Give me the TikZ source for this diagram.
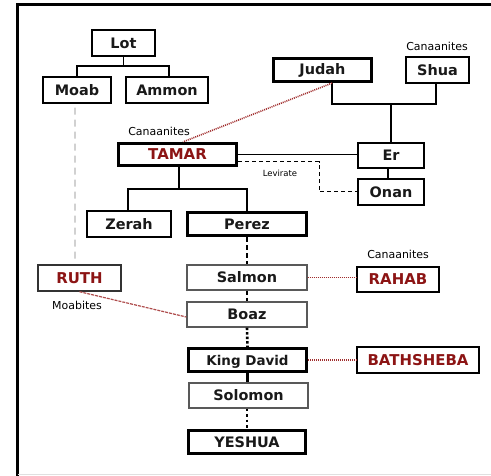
\documentclass[tikz,border=0pt]{standalone}
\usepackage{fontspec}
\setmainfont{DejaVu Sans}
\usetikzlibrary{calc}
\definecolor{tred}{RGB}{140,20,20}
\definecolor{lred}{RGB}{160,45,45}
\tikzset{
  box/.style={draw=black, line width=1.4bp, minimum height=25bp, inner sep=0pt, font=\bfseries\fontsize{14.5}{16}\selectfont, text=black!90},
  tbox/.style={box, line width=3.2bp},
  gbox/.style={box, draw=black!65},
  rbox/.style={box, text=tred, font=\bfseries\fontsize{15}{17}\selectfont},
  small/.style={font=\fontsize{11}{13}\selectfont, inner sep=0pt},
  conn/.style={line width=1.3bp},
  reddot/.style={draw=lred, line width=1.6bp, dash pattern=on 1bp off 1bp},
  chain/.style={line width=2.6bp}
}
\begin{document}
\begin{tikzpicture}[x=1bp,y=-1bp]
\useasboundingbox (0,0) rectangle (491,476);
% frame
\draw[line width=3bp] (17.5,476) -- (17.5,5) -- (491,5);
\draw[black!12, line width=1bp] (17.5,474) -- (491,474);
% nodes
\node[box, minimum width=63bp, minimum height=26bp] (Lot) at (123.5,43) {Lot};
\node[box, minimum width=68bp, minimum height=26bp] (Moab) at (77,90) {Moab};
\node[box, minimum width=82bp, minimum height=26bp] (Ammon) at (167,90) {Ammon};
\node[tbox, minimum width=98bp, minimum height=23bp] (Judah) at (322.5,70) {Judah};
\node[box, minimum width=63bp, minimum height=26bp] (Shua) at (437.5,70) {Shua};
\node[box, minimum width=66bp] (Er) at (391,155.5) {Er};
\node[box, minimum width=66bp, minimum height=26bp] (Onan) at (391,192) {Onan};
\node[rbox, line width=3.2bp, minimum width=118bp, minimum height=22bp] (TAMAR) at (177.5,154.5) {TAMAR};
\node[box, minimum width=84bp, minimum height=26bp] (Zerah) at (129,224) {Zerah};
\node[tbox, minimum width=119bp, minimum height=23bp] (Perez) at (247,224) {Perez};
\node[gbox, minimum width=120bp] (Salmon) at (247,277.5) {Salmon};
\node[gbox, minimum width=120bp] (Boaz) at (247,314.5) {Boaz};
\node[tbox, minimum width=118bp, minimum height=23bp, text depth=0pt, font=\bfseries\fontsize{13.5}{15}\selectfont] (David) at (247.5,360) {King David};
\node[gbox, minimum width=119bp] (Solomon) at (248.5,395.5) {Solomon};
\node[tbox, minimum width=117bp, minimum height=23bp] (YESHUA) at (247,442) {YESHUA};
\node[rbox, minimum width=82bp] (RAHAB) at (398,279.5) {RAHAB};
\node[rbox, minimum width=122bp, minimum height=26bp] (BATH) at (418,360) {BATHSHEBA};
\node[rbox, draw=black!80, minimum width=83bp, minimum height=26bp] (RUTH) at (79.5,278) {RUTH};
% small labels
\node[small] (c1) at (159,131) {Canaanites};
\node[small] (c2) at (437,46) {Canaanites};
\node[small] (c3) at (398,254) {Canaanites};
\node[small] (mo) at (77,305) {Moabites};
\node[font=\fontsize{8.5}{10}\selectfont, inner sep=0pt] (lev) at (280,173) {Levirate};
% Lot family
\coordinate (lotj) at (123.5,66);
\draw[conn] (Lot.south) -- (lotj);
\draw[conn] (Moab.north) |- (lotj) -| ([xshift=2bp]Ammon.north);
% Judah-Shua
\coordinate (js) at (391,104);
\draw[conn] ([xshift=9.5bp]Judah.south) |- (js) -| ([xshift=-1.5bp]Shua.south);
\draw[conn] (js) -- (Er.north);
\draw[conn] ([xshift=-3bp]Er.south) -- ([xshift=-3bp]Onan.north);
% Tamar links
\draw[conn] (TAMAR.east) -- (TAMAR.east -| Er.west);
\coordinate (levc) at (319,192);
\draw[line width=1bp, dash pattern=on 4bp off 3bp] ([yshift=-7.5bp]TAMAR.east) -| (levc) -- (Onan.west);
\draw[reddot] ([xshift=9.5bp]Judah.south) -- ([xshift=5.5bp]TAMAR.north);
% Tamar children
\coordinate (tj) at (179,189);
\draw[conn] (tj) -| ([xshift=-1bp]Zerah.north);
\draw[line width=2.6bp] ([xshift=1.5bp]TAMAR.south) -- (tj) -| (Perez.north);
% chain
\draw[chain, dash pattern=on 5bp off 3bp] (Perez.south) -- (Salmon.north);
\draw[chain, dash pattern=on 4bp off 3bp] (Salmon.south) -- (Boaz.north);
\draw[chain, dash pattern=on 2.5bp off 2bp] (Boaz.south) -- (David.north);
\draw[chain] (David.south) -- (David.south |- Solomon.north);
\draw[chain, dash pattern=on 2.5bp off 3bp] (Solomon.south -| YESHUA.north) -- (YESHUA.north);
% spouses
\draw[reddot, line width=1.3bp] (Salmon.east) -- (Salmon.east -| RAHAB.west);
\draw[reddot, line width=1.3bp] (David.east) -- (BATH.west);
\draw[draw=lred!85, line width=1.2bp, dash pattern=on 3bp off 1bp] (RUTH.south) -- ([yshift=-2.5bp]Boaz.west);
\draw[black!18, line width=1.6bp, dash pattern=on 7bp off 5bp] ([xshift=-2bp,yshift=-4bp]Moab.south) -- ([xshift=-4.5bp,yshift=3bp]RUTH.north);
\end{tikzpicture}
\end{document}
